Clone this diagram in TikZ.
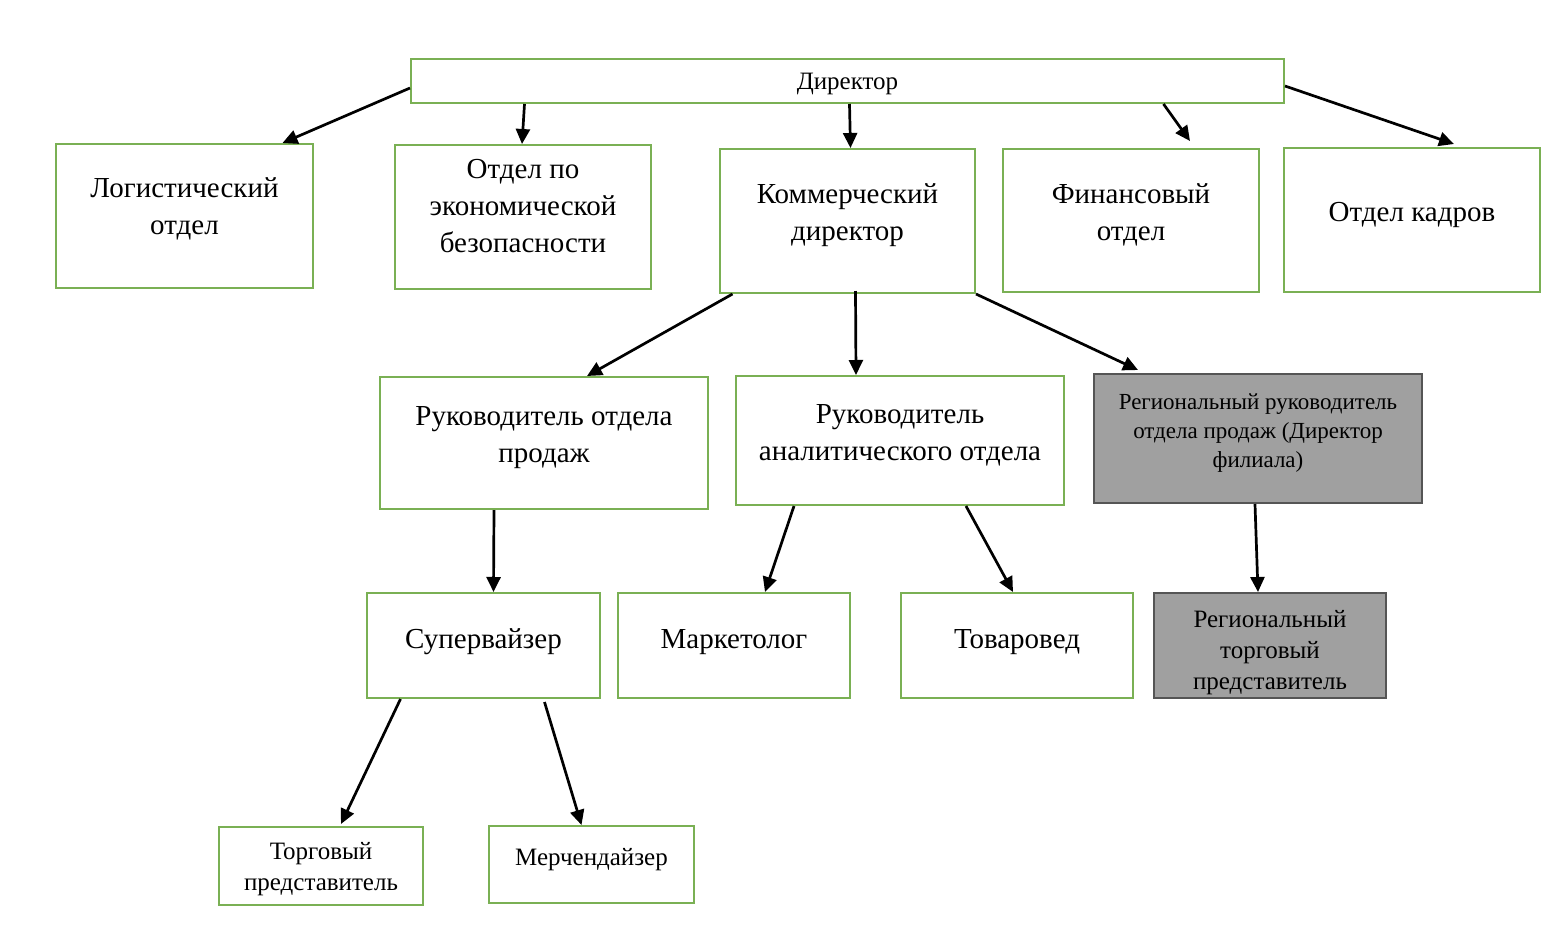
\documentclass[tikz,border=0pt]{standalone}
\usepackage{fontspec}
\setmainfont{Liberation Serif}
\usepackage{xcolor}
\usepackage{tikz}
\usetikzlibrary{positioning,arrows.meta,calc}

\definecolor{boxgreen}{RGB}{122,176,84}
\definecolor{boxgray}{RGB}{160,160,160}
\definecolor{grayline}{RGB}{85,85,85}

\begin{document}
\begin{tikzpicture}[
    x=1pt, y=-1pt,
    unit/.style={rectangle, draw=boxgreen, line width=2pt, fill=white, align=center, inner sep=2pt, text depth=17pt, font=\fontsize{29}{37}\selectfont},
    smallunit/.style={unit, text depth=0pt, font=\fontsize{25}{31}\selectfont},
    branch/.style={unit, draw=grayline, fill=boxgray},
    link/.style={-{Triangle[length=15pt,width=14pt]}, line width=2.7pt, black}
]
\useasboundingbox (0,0) rectangle (1567,930);

% Верхний уровень
\node[smallunit, minimum width=873pt, minimum height=44pt] (dir) at (847.5,81) {Директор};

% Отделы
\node[unit, text depth=20pt, minimum width=257pt, minimum height=144pt] (log) at (184.5,216) {Логистический\\отдел};
\node[unit, text depth=22pt, minimum width=256pt, minimum height=144pt] (econ) at (523,217) {Отдел по\\экономической\\безопасности};
\node[unit, minimum width=255pt, minimum height=144pt] (comm) at (847.5,221) {Коммерческий\\директор};
\node[unit, minimum width=256pt, minimum height=143pt] (fin) at (1131,220.5) {Финансовый\\отдел};
\node[unit, minimum width=256pt, minimum height=144pt] (hr) at (1412,220) {Отдел кадров};

% Подчинённые коммерческому директору
\node[unit, minimum width=328pt, minimum height=132pt] (rop) at (544,443) {Руководитель отдела\\продаж};
\node[unit, minimum width=328pt, minimum height=129pt] (ana) at (900,440.5) {Руководитель\\аналитического отдела};
\node[branch, text depth=16pt, font=\fontsize{23}{29}\selectfont, minimum width=328pt, minimum height=129pt] (reg) at (1258,438.5) {Региональный руководитель\\отдела продаж (Директор\\филиала)};

% Третий уровень
\node[unit, text depth=14pt, minimum width=233pt, minimum height=105pt] (sup) at (483.5,645.5) {Супервайзер};
\node[unit, text depth=14pt, minimum width=232pt, minimum height=105pt] (mark) at (734,645.5) {Маркетолог};
\node[unit, text depth=14pt, minimum width=232pt, minimum height=105pt] (tov) at (1017,645.5) {Товаровед};
\node[branch, text depth=0pt, font=\fontsize{25}{31}\selectfont, minimum width=232pt, minimum height=105pt] (regtp) at (1270,645.5) {\rule{0pt}{25pt}Региональный\\торговый\\представитель};

% Четвёртый уровень
\node[smallunit, minimum width=204pt, minimum height=78pt] (torg) at (321,866) {Торговый\\представитель};
\node[smallunit, text depth=16pt, minimum width=205pt, minimum height=77pt] (merch) at (591.5,864.5) {Мерчендайзер};

% Связи от директора
\draw[link] ([yshift=-7pt]dir.west) -- ([xshift=98pt]log.north);
\draw[link] ([xshift=-323pt]dir.south) -- ([xshift=-1pt]econ.north);
\draw[link] ([xshift=2pt]dir.south) -- ([xshift=3pt]comm.north);
\draw[link] ([xshift=316pt]dir.south) -- ([xshift=59pt,yshift=7pt]fin.north);
\draw[link] ([yshift=-5pt]dir.east) -- ([xshift=42pt,yshift=3pt]hr.north);

% Связи от коммерческого директора
\draw[link] ([xshift=-115pt]comm.south) -- ([xshift=43pt]rop.north);
\draw[link] ([xshift=8pt,yshift=3pt]comm.south) -- ([xshift=-44pt]ana.north);
\draw[link] (comm.south east) -- ([xshift=-120pt,yshift=3pt]reg.north);

% Нижние уровни
\draw[link] ([xshift=-50pt]rop.south) -- ([xshift=10pt]sup.north);
\draw[link] ([xshift=-106pt]ana.south) -- ([xshift=31pt]mark.north);
\draw[link] ([xshift=66pt]ana.south) -- ([xshift=-4pt]tov.north);
\draw[link] ([xshift=-3pt]reg.south) -- ([xshift=-12pt]regtp.north);
\draw[link] ([xshift=-83pt]sup.south) -- ([xshift=20pt,yshift=2pt]torg.north);
\draw[link] ([xshift=61pt,yshift=-3pt]sup.south) -- ([xshift=-10pt]merch.north);

\end{tikzpicture}
\end{document}
